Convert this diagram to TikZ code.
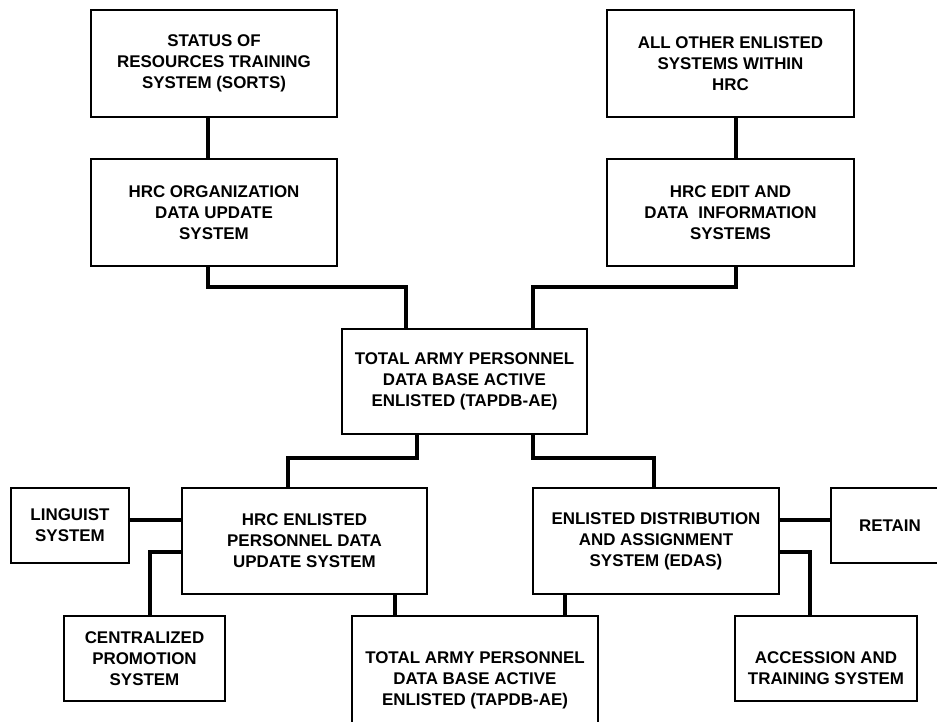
\documentclass[tikz,border=0pt]{standalone}
\usepackage{fontspec}
\setmainfont{Liberation Sans}
\usepackage{tikz}
\usetikzlibrary{calc}

\begin{document}
\begin{tikzpicture}[x=0.75pt,y=0.75pt,yscale=-1,xscale=1,
	sysbox/.style={draw, line width=1.5pt, align=center, inner sep=0pt,
		font=\fontsize{12.7}{15.75}\selectfont\bfseries},
	link/.style={line width=3pt}]
	%set diagram left start at 0, and has height of 721
	\useasboundingbox (0,0) rectangle (937,721);
	\clip (0,0) rectangle (937,721);
	
	%Top row
	\node [sysbox, minimum width=246*0.75pt, minimum height=107*0.75pt] (sorts) at (214,63.5) {STATUS OF\\RESOURCES TRAINING\\SYSTEM (SORTS)};
	\node [sysbox, minimum width=247*0.75pt, minimum height=107*0.75pt] (other) at (730.5,63.5) {ALL OTHER ENLISTED\\SYSTEMS WITHIN\\HRC};
	%Second row
	\node [sysbox, minimum width=246*0.75pt, minimum height=107*0.75pt] (hrcorg) at (214,212.5) {HRC ORGANIZATION\\DATA UPDATE\\SYSTEM};
	\node [sysbox, minimum width=247*0.75pt, minimum height=107*0.75pt] (hrcedit) at (730.5,212.5) {HRC EDIT AND\\DATA\ \ INFORMATION\\SYSTEMS};
	%Center
	\node [sysbox, minimum width=245*0.75pt, minimum height=105*0.75pt] (tapdb) at (464.5,381.5) {TOTAL ARMY PERSONNEL\\DATA BASE ACTIVE\\ENLISTED (TAPDB-AE)};
	%Third row
	\node [sysbox, minimum width=118*0.75pt, minimum height=75*0.75pt] (linguist) at (70,525.5) {LINGUIST\\SYSTEM};
	\node [sysbox, minimum width=245*0.75pt, minimum height=106*0.75pt] (hrcenl) at (304.5,541) {HRC ENLISTED\\PERSONNEL DATA\\UPDATE SYSTEM};
	\node [sysbox, minimum width=246*0.75pt, minimum height=106*0.75pt] (edas) at (656,541) {ENLISTED DISTRIBUTION\\AND ASSIGNMENT\\SYSTEM (EDAS)};
	\node [sysbox, minimum width=118*0.75pt, minimum height=75*0.75pt] (retain) at (890,525.5) {RETAIN};
	%Bottom row
	\node [sysbox, minimum width=161*0.75pt, minimum height=85*0.75pt] (central) at (144.5,658.5) {CENTRALIZED\\PROMOTION\\SYSTEM};
	\node [sysbox, minimum width=246*0.75pt, minimum height=128*0.75pt] (tapdbb) at (475,680) {TOTAL ARMY PERSONNEL\\DATA BASE ACTIVE\\ENLISTED (TAPDB-AE)};
	\node [sysbox, minimum width=182*0.75pt, minimum height=85*0.75pt] (access) at (826,658.5) {\mbox{}\\[7pt]ACCESSION AND\\TRAINING SYSTEM};
	
	%Connectors, upper half
	\draw [link] ($(sorts.south)+(-6,0)$) -- ($(hrcorg.north)+(-6,0)$);
	\draw [link] ($(other.south)+(5.5,0)$) -- ($(hrcedit.north)+(5.5,0)$);
	\draw [link] ($(hrcorg.south)+(-6,0)$) -- ++(0,20) -| ($(tapdb.north)+(-58.5,0)$);
	\draw [link] ($(hrcedit.south)+(5.5,0)$) -- ++(0,20) -| ($(tapdb.north)+(68.5,0)$);
	
	%Connectors, lower half
	\coordinate (lingjoin) at ($(hrcenl.west)+(0,-21)$);
	\coordinate (promjoin) at ($(hrcenl.west)+(0,11)$);
	\coordinate (enlfoot) at ($(hrcenl.south)+(90.5,0)$);
	\coordinate (edasfoot) at ($(edas.south)+(-91,0)$);
	\coordinate (retjoin) at ($(edas.east)+(0,-21)$);
	\coordinate (accjoin) at ($(edas.east)+(0,11)$);
	\draw [link] ($(tapdb.south)+(-47.5,0)$) -- ++(0,23) -| ($(hrcenl.north)+(-16.5,0)$);
	\draw [link] ($(tapdb.south)+(68.5,0)$) -- ++(0,23) -| ($(edas.north)+(-2,0)$);
	\draw [link] (lingjoin) -- (lingjoin -| linguist.east);
	\draw [link] (promjoin) -| ($(central.north)+(5.5,0)$);
	\draw [link] (enlfoot) -- (enlfoot |- tapdbb.north);
	\draw [link] (edasfoot) -- (edasfoot |- tapdbb.north);
	\draw [link] (retjoin) -- (retjoin -| retain.west);
	\draw [link] (accjoin) -| ($(access.north)+(-16,0)$);
	
\end{tikzpicture}
\end{document}
